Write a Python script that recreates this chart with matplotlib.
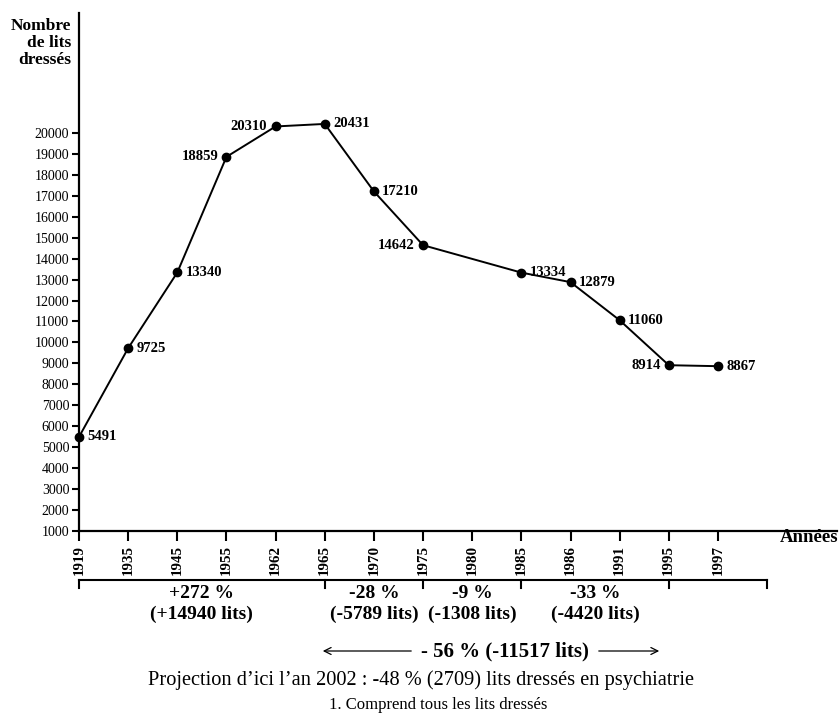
import matplotlib
matplotlib.use("Agg")
import matplotlib.pyplot as plt
from matplotlib.transforms import blended_transform_factory
from matplotlib.lines import Line2D
from matplotlib.patches import FancyArrowPatch

plt.rcParams['font.family'] = ['Liberation Serif', 'DejaVu Serif']

# ---- data ----
years = ["1919", "1935", "1945", "1955", "1962", "1965", "1970", "1975",
         "1980", "1985", "1986", "1991", "1995", "1997"]
point_years = ["1919", "1935", "1945", "1955", "1962", "1965", "1970", "1975",
               "1985", "1986", "1991", "1995", "1997"]
beds = [5491, 9725, 13340, 18859, 20310, 20431, 17210, 14642,
        13334, 12879, 11060, 8914, 8867]
label_side = ["r", "r", "r", "l", "l", "r", "r", "l", "r", "r", "r", "l", "r"]
yticks = list(range(1000, 20001, 1000))

# period brackets: (start year, end year, pct text, beds text)
periods = [("1919", "1965", "+272 %", "(+14940 lits)"),
           ("1965", "1975", "-28 %", "(-5789 lits)"),
           ("1975", "1985", "-9 %", "(-1308 lits)"),
           ("1985", "1995", "-33 %", "(-4420 lits)")]
bracket_end = 14  # category position where the bracket ends
total_text = "- 56 % (-11517 lits)"
projection_text = "Projection d\u2019ici l\u2019an 2002 : -48 % (2709) lits dress\u00e9s en psychiatrie"
note_text = "1. Comprend tous les lits dress\u00e9s"

W, H = 840, 725
fig = plt.figure(figsize=(W / 100, H / 100), dpi=100)

def fx(px):
    return px / W

def fy(py):
    return 1 - py / H

ax_left, ax_right, ax_top, ax_bot = 79, 837, 13, 531
ax = fig.add_axes([fx(ax_left), fy(ax_bot), fx(ax_right - ax_left), (ax_bot - ax_top) / H])

pos = {y: i for i, y in enumerate(years)}
xs = [pos[y] for y in point_years]
step = 49.15
ax.set_xlim(0, (ax_right - ax_left) / step)
ax.set_ylim(1000, 1000 + (ax_bot - ax_top) / 20.95 * 1000)

ax.plot(xs, beds, color='black', lw=1.4, marker='o', ms=6, mfc='black', mec='black',
        clip_on=False, zorder=3)

for x, v, s in zip(xs, beds, label_side):
    if s == "r":
        ax.annotate(str(v), (x, v), xytext=(6, 0), textcoords='offset points',
                    ha='left', va='center', fontsize=10.5, fontweight='bold')
    else:
        ax.annotate(str(v), (x, v), xytext=(-6, 0), textcoords='offset points',
                    ha='right', va='center', fontsize=10.5, fontweight='bold')

for sp in ['top', 'right']:
    ax.spines[sp].set_visible(False)
for sp in ['left', 'bottom']:
    ax.spines[sp].set_linewidth(1.6)

ax.set_xticks(range(len(years)))
ax.set_xticklabels(years, rotation=90, fontsize=10.8, fontweight='bold')
ax.set_yticks(yticks)
ax.set_yticklabels([str(t) for t in yticks], fontsize=10)
ax.tick_params(axis='x', direction='out', length=7, width=1.5, pad=3)
ax.tick_params(axis='y', direction='out', length=5, width=1.5, pad=2)

# axis titles
fig.text(fx(71), fy(43), "Nombre\nde lits\ndress\u00e9s", ha='right', va='center',
         fontsize=12.5, fontweight='bold', linespacing=1.05)
fig.text(fx(838), fy(537), "Ann\u00e9es", ha='right', va='center',
         fontsize=13.5, fontweight='bold')

# brackets under the axis
tr = blended_transform_factory(ax.transData, fig.transFigure)
yb = fy(580)
ytick_b = fy(588)
fig.add_artist(Line2D([0, bracket_end], [yb, yb], transform=tr, color='black', lw=1.5))
edges = [pos[p[0]] for p in periods] + [pos[periods[-1][1]], bracket_end]
for e in edges:
    fig.add_artist(Line2D([e, e], [yb, ytick_b], transform=tr, color='black', lw=1.5))
for a, b, t1, t2 in periods:
    c = (pos[a] + pos[b]) / 2
    fig.text(c, fy(593), t1, transform=tr, ha='center', va='center',
             fontsize=14, fontweight='bold')
    fig.text(c, fy(614), t2, transform=tr, ha='center', va='center',
             fontsize=14, fontweight='bold')

# total change with arrows
fig.text(fx(505), fy(651), total_text, ha='center', va='center',
         fontsize=15, fontweight='bold')
fig.add_artist(FancyArrowPatch((fx(414), fy(651)), (fx(320), fy(651)),
               transform=fig.transFigure, arrowstyle='->,head_length=5,head_width=2.5',
               color='black', lw=0.9))
fig.add_artist(FancyArrowPatch((fx(596), fy(651)), (fx(662), fy(651)),
               transform=fig.transFigure, arrowstyle='->,head_length=5,head_width=2.5',
               color='black', lw=0.9))

fig.text(fx(421), fy(680), projection_text, ha='center', va='center', fontsize=14.7)
fig.text(fx(438), fy(705), note_text, ha='center', va='center', fontsize=12)

fig.savefig("out.png", dpi=100)
